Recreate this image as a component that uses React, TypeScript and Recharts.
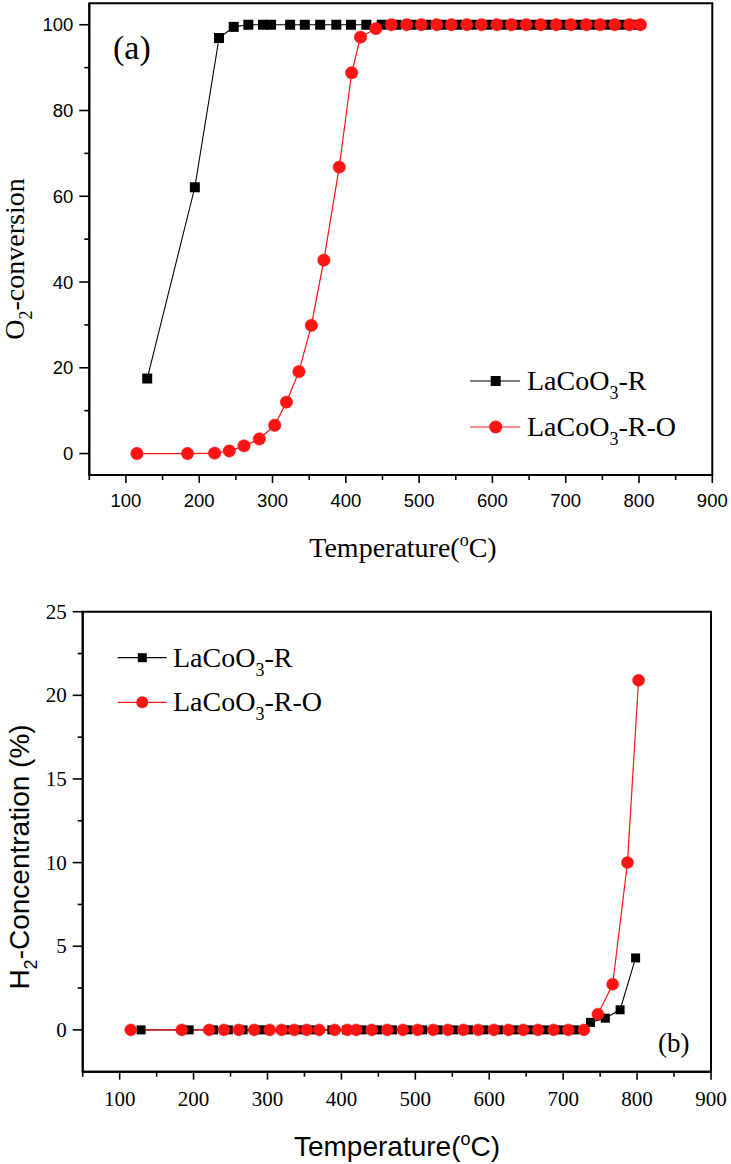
import React from 'react';
import { LineChart, Line, XAxis, YAxis, ReferenceArea, Legend } from 'recharts';

// ---------- data ----------
const tempR = [129, 194, 227, 247, 267, 287, 298, 324, 344, 365, 387, 407, 428, 449, 469, 490, 510, 531, 552, 572, 593, 613, 634, 655, 675, 696, 716, 737, 757, 777, 798];
const o2R = [17.5, 62.1, 96.9, 99.5, 100, 100, 100, 100, 100, 100, 100, 100, 100, 100, 100, 100, 100, 100, 100, 100, 100, 100, 100, 100, 100, 100, 100, 100, 100, 100, 100];
const h2R = [0, 0, 0, 0, 0, 0, 0, 0, 0, 0, 0, 0, 0, 0, 0, 0, 0, 0, 0, 0, 0, 0, 0, 0, 0, 0, 0, 0.45, 0.7, 1.2, 4.3];

const tempRO = [115, 184, 221, 241, 261, 282, 303, 319, 336, 353, 370, 391, 408, 420, 441, 462, 483, 503, 524, 544, 565, 585, 606, 626, 646, 666, 687, 707, 728, 747, 767, 787, 802];
const o2RO = [0, 0, 0.1, 0.6, 1.8, 3.4, 6.6, 12, 19.1, 29.9, 45.1, 66.8, 88.8, 97.1, 99.1, 100, 100, 100, 100, 100, 100, 100, 100, 100, 100, 100, 100, 100, 100, 100, 100, 100, 100];
const h2RO = [0, 0, 0, 0, 0, 0, 0, 0, 0, 0, 0, 0, 0, 0, 0, 0, 0, 0, 0, 0, 0, 0, 0, 0, 0, 0, 0, 0, 0, 0.94, 2.73, 10.0, 20.9];

const xTicks = [50, 100, 150, 200, 250, 300, 350, 400, 450, 500, 550, 600, 650, 700, 750, 800, 850, 900];
const yTicksA = [0, 10, 20, 30, 40, 50, 60, 70, 80, 90, 100];
const yTicksB = [0, 2.5, 5, 7.5, 10, 12.5, 15, 17.5, 20, 22.5, 25];

const seriesNames = ['LaCoO3-R', 'LaCoO3-R-O'];

const zip = (t: number[], v: number[]) => t.map((x, i) => ({ t: x, v: v[i] }));
const dataAR = zip(tempR, o2R);
const dataARO = zip(tempRO, o2RO);
const dataBR = zip(tempR, h2R);
const dataBRO = zip(tempRO, h2RO);

// ---------- styles ----------
const SERIF = "'Liberation Serif', 'Times New Roman', serif";
const SANS = "'Liberation Sans', Arial, sans-serif";
const RED = '#ff1414';

const makeXTick = (font: string, size: number, dy: number) => (props: any) => {
  const { x, y, payload } = props;
  const v = payload.value;
  const major = v % 100 === 0;
  return (
    <g>
      <line x1={x} y1={y} x2={x} y2={y + (major ? 8 : 5)} stroke="#000" strokeWidth={1.6} />
      {major && (
        <text x={x} y={y + dy} textAnchor="middle" fontFamily={font} fontSize={size} fill="#000">
          {v}
        </text>
      )}
    </g>
  );
};

const makeYTick = (font: string, size: number, step: number, dy: number) => (props: any) => {
  const { x, y, payload } = props;
  const v = payload.value;
  const major = Math.abs(v / step - Math.round(v / step)) < 1e-6;
  return (
    <g>
      <line x1={x} y1={y} x2={x - (major ? 10 : 5)} y2={y} stroke="#000" strokeWidth={1.6} />
      {major && (
        <text x={x - 16} y={y + dy} textAnchor="end" fontFamily={font} fontSize={size} fill="#000">
          {v}
        </text>
      )}
    </g>
  );
};

const squareDot = (size: number) => (props: any) => {
  const { cx, cy, index } = props;
  if (cx == null || cy == null) return <g key={index} />;
  return <rect key={index} x={cx - size / 2} y={cy - size / 2} width={size} height={size} fill="#000" />;
};

const LegendLabel = ({ x, y, suffix }: { x: number; y: number; suffix: string }) => (
  <text x={x} y={y} fontFamily={SERIF} fontSize={28} fill="#000">
    LaCoO
    <tspan fontSize={18} dy={9}>3</tspan>
    <tspan fontSize={28} dy={-9}>{suffix}</tspan>
  </text>
);

const makeLegend = (lx1: number, lx2: number, mx: number, tx: number, r1: number, r2: number, sq: number, cr: number) => () => (
  <svg width={280} height={110} style={{ overflow: 'visible' }}>
    <line x1={lx1} y1={r1} x2={lx2} y2={r1} stroke="#000" strokeWidth={1.2} />
    <rect x={mx - sq / 2} y={r1 - sq / 2} width={sq} height={sq} fill="#000" />
    <LegendLabel x={tx} y={r1 + 9} suffix="-R" />
    <line x1={lx1} y1={r2} x2={lx2} y2={r2} stroke={RED} strokeWidth={1.2} />
    <circle cx={mx} cy={r2} r={cr} fill={RED} />
    <LegendLabel x={tx} y={r2 + 9} suffix="-R-O" />
  </svg>
);

const ChartA = () => (
  <LineChart width={731} height={580} margin={{ top: 3.3, right: 18.7, left: 0, bottom: 0 }}>
    <XAxis
      dataKey="t"
      type="number"
      domain={[50, 900]}
      ticks={xTicks}
      interval={0}
      height={105}
      tickSize={0}
      tickMargin={0}
      tickLine={false}
      tick={makeXTick(SANS, 18.5, 32)}
      axisLine={{ stroke: '#000', strokeWidth: 2 }}
      allowDataOverflow
    />
    <YAxis
      type="number"
      domain={[-5, 105]}
      ticks={yTicksA}
      interval={0}
      width={89.3}
      tickSize={0}
      tickMargin={0}
      tickLine={false}
      tick={makeYTick(SANS, 18.5, 20, 6.5)}
      axisLine={{ stroke: '#000', strokeWidth: 2 }}
      allowDataOverflow
    />
    <ReferenceArea x1={50} x2={900} y1={-5} y2={105} fill="none" stroke="#000" strokeWidth={2} fillOpacity={0} />
    <Legend
      layout="vertical"
      align="center"
      verticalAlign="middle"
      content={makeLegend(10, 60, 35.7, 67, 31, 77, 10, 6.5)}
      wrapperStyle={{ left: 460, top: 350, width: 280, height: 110 }}
    />
    <Line
      name={seriesNames[0]}
      data={dataAR}
      dataKey="v"
      type="linear"
      stroke="#000"
      strokeWidth={1.1}
      dot={squareDot(10)}
      isAnimationActive={false}
    />
    <Line
      name={seriesNames[1]}
      data={dataARO}
      dataKey="v"
      type="linear"
      stroke={RED}
      strokeWidth={1.2}
      dot={{ r: 6.2, fill: RED, stroke: RED, strokeWidth: 0.5 }}
      isAnimationActive={false}
    />
  </LineChart>
);

const ChartB = () => (
  <LineChart width={731} height={584} margin={{ top: 31.7, right: 20, left: 0, bottom: 0 }}>
    <XAxis
      dataKey="t"
      type="number"
      domain={[50, 900]}
      ticks={xTicks}
      interval={0}
      height={92.3}
      tickSize={0}
      tickMargin={0}
      tickLine={false}
      tick={makeXTick(SERIF, 21, 34)}
      axisLine={{ stroke: '#000', strokeWidth: 2 }}
      allowDataOverflow
    />
    <YAxis
      type="number"
      domain={[-2.5, 25]}
      ticks={yTicksB}
      interval={0}
      width={82.7}
      tickSize={0}
      tickMargin={0}
      tickLine={false}
      tick={makeYTick(SERIF, 21, 5, 7)}
      axisLine={{ stroke: '#000', strokeWidth: 2 }}
      allowDataOverflow
    />
    <ReferenceArea x1={50} x2={900} y1={-2.5} y2={25} fill="none" stroke="#000" strokeWidth={2} fillOpacity={0} />
    <Legend
      layout="vertical"
      align="center"
      verticalAlign="middle"
      content={makeLegend(17.7, 66.7, 42.3, 73, 37.7, 82.3, 9, 6)}
      wrapperStyle={{ left: 100, top: 40, width: 280, height: 110 }}
    />
    <Line
      name={seriesNames[0]}
      data={dataBR}
      dataKey="v"
      type="linear"
      stroke="#000"
      strokeWidth={1.1}
      dot={squareDot(9)}
      isAnimationActive={false}
    />
    <Line
      name={seriesNames[1]}
      data={dataBRO}
      dataKey="v"
      type="linear"
      stroke={RED}
      strokeWidth={1.2}
      dot={{ r: 6, fill: RED, stroke: RED, strokeWidth: 0.5 }}
      isAnimationActive={false}
    />
  </LineChart>
);

const Overlay = () => (
  <svg width={731} height={1164} style={{ position: 'absolute', left: 0, top: 0, pointerEvents: 'none' }}>
    {/* chart (a) */}
    <text x={113} y={59} fontFamily={SERIF} fontSize={34} fill="#000">(a)</text>
    <text x={403} y={557} textAnchor="middle" fontFamily={SERIF} fontSize={28} fill="#000">
      Temperature(
      <tspan fontSize={18} dy={-11}>o</tspan>
      <tspan fontSize={28} dy={11}>C)</tspan>
    </text>
    <text x={24} y={259} transform="rotate(-90 24 259)" textAnchor="middle" fontFamily={SERIF} fontSize={28} fill="#000">
      O
      <tspan fontSize={18} dy={8}>2</tspan>
      <tspan fontSize={28} dy={-8}>-conversion</tspan>
    </text>
    {/* chart (b) */}
    <text x={658} y={1052} fontFamily={SERIF} fontSize={27} fill="#000">(b)</text>
    <text x={397} y={1156} textAnchor="middle" fontFamily={SANS} fontSize={28} fill="#000">
      Temperature(
      <tspan fontSize={18} dy={-11}>o</tspan>
      <tspan fontSize={28} dy={11}>C)</tspan>
    </text>
    <text x={29} y={857} transform="rotate(-90 29 857)" textAnchor="middle" fontFamily={SANS} fontSize={28} fill="#000">
      H
      <tspan fontSize={18} dy={8}>2</tspan>
      <tspan fontSize={28} dy={-8}>-Concentration (%)</tspan>
    </text>
  </svg>
);

export default function App() {
  return (
    <div style={{ position: 'absolute', left: 0, top: 0, width: 731, height: 1164, background: '#fff' }}>
      <div style={{ position: 'absolute', left: 0, top: 0, width: 731, height: 580 }}>
        <ChartA />
      </div>
      <div style={{ position: 'absolute', left: 0, top: 580, width: 731, height: 584 }}>
        <ChartB />
      </div>
      <Overlay />
    </div>
  );
}
